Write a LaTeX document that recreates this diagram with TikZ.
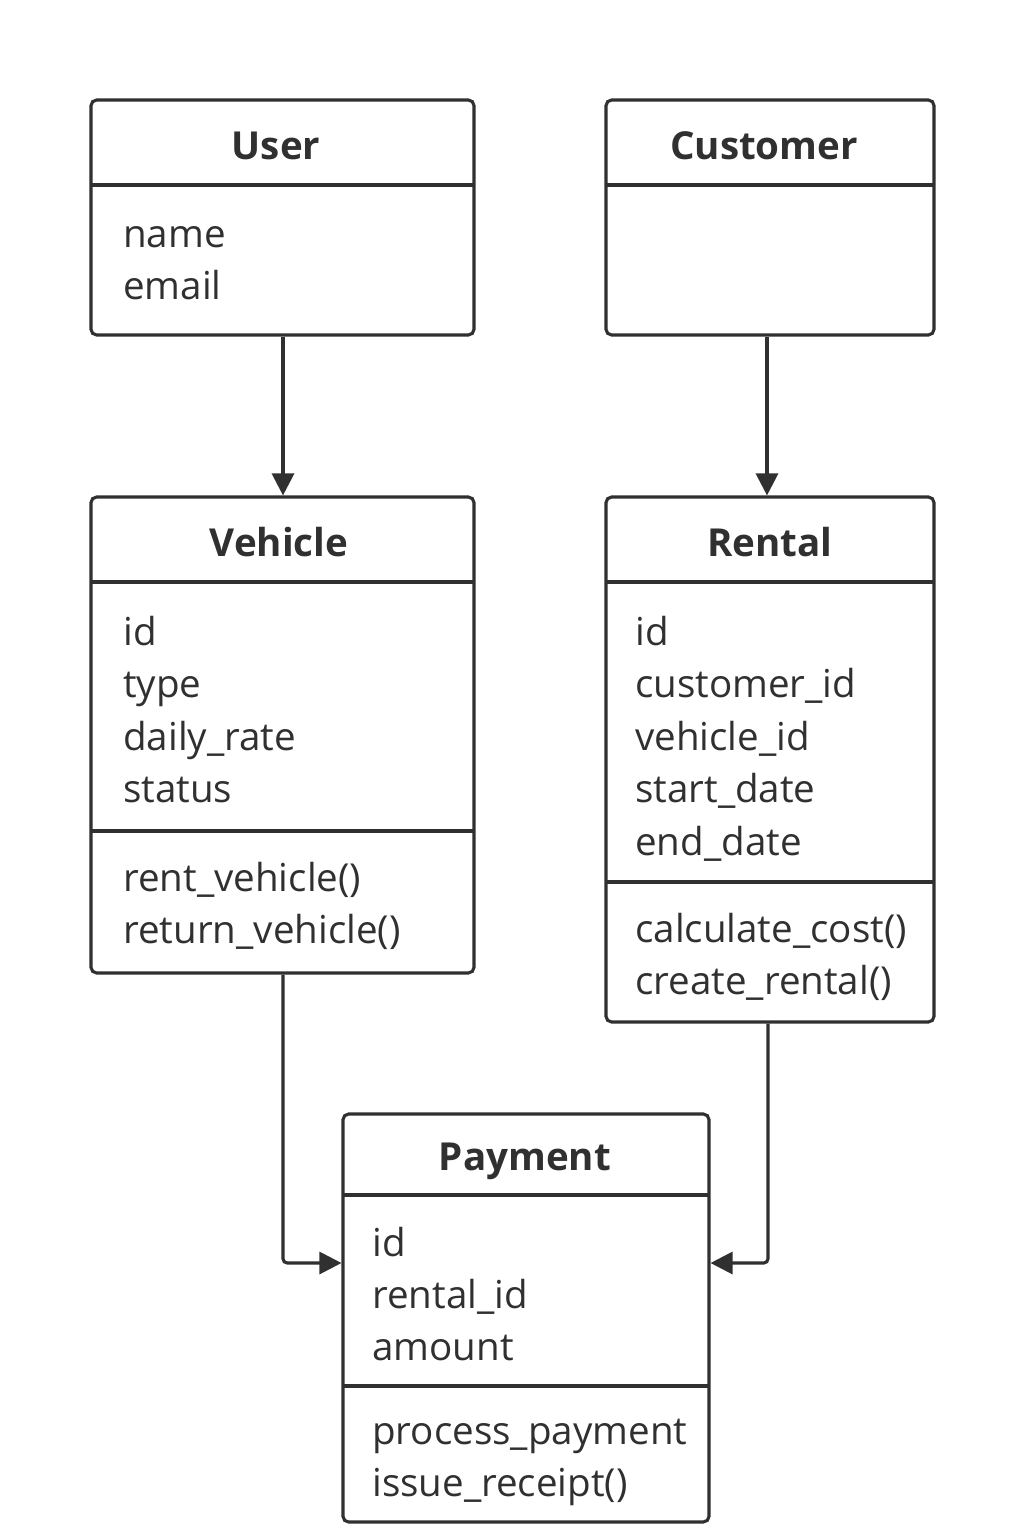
\documentclass[tikz,border=0pt]{standalone}
\usepackage{fontspec}
\setmainfont{Open Sans}
\usetikzlibrary{fit,arrows.meta}
\definecolor{ink}{HTML}{303030}
\tikzset{
  classbox/.style={draw=ink, line width=2.2pt, rounded corners=4pt, inner sep=0pt},
  divider/.style={draw=ink, line width=2.2pt},
  title/.style={anchor=base, text=ink, font=\fontsize{27.4}{33}\selectfont\bfseries, inner sep=0pt},
  attr/.style={anchor=base west, text=ink, font=\fontsize{27.4}{33}\selectfont, inner sep=0pt},
  link/.style={draw=ink, line width=2.2pt, -{Triangle[length=0.55cm,width=0.55cm]}},
}
\begin{document}
\begin{tikzpicture}[x=0.025cm, y=-0.025cm]
\useasboundingbox (0,0) rectangle (1024,1536);
% class boxes
\node[classbox, fit={(91,100) (474,335)}] (user) {};
\node[classbox, fit={(606,100) (934,335)}] (customer) {};
\node[classbox, fit={(91,497) (474,973)}] (vehicle) {};
\node[classbox, fit={(606,497) (934,1022)}] (rental) {};
\node[classbox, fit={(343,1114) (709,1522)}] (payment) {};
% compartments
\draw[divider] (91,185) -- (474,185);
\draw[divider] (606,185) -- (934,185);
\draw[divider] (91,582) -- (474,582);
\draw[divider] (91,831) -- (474,831);
\draw[divider] (606,582) -- (934,582);
\draw[divider] (606,882) -- (934,882);
\draw[divider] (343,1195) -- (709,1195);
\draw[divider] (343,1386) -- (709,1386);
% titles
\node[title] (user-t) at (276,160) {User};
\node[title] (customer-t) at (764,160) {Customer};
\node[title] (vehicle-t) at (279,556) {Vehicle};
\node[title] (rental-t) at (770,556) {Rental};
\node[title] (payment-t) at (525,1170) {Payment};
% User
\node[attr] (user-a1) at (123,248) {name};
\node[attr] (user-a2) at (123,300) {email};
% Vehicle
\node[attr] (vehicle-a1) at (123,645) {id};
\node[attr] (vehicle-a2) at (123,697) {type};
\node[attr] (vehicle-a3) at (123,750) {daily\_rate};
\node[attr] (vehicle-a4) at (123,802) {status};
\node[attr] (vehicle-m1) at (123,891) {rent\_vehicle()};
\node[attr] (vehicle-m2) at (123,943) {return\_vehicle()};
% Rental
\node[attr] (rental-a1) at (635,645) {id};
\node[attr] (rental-a2) at (635,697) {customer\_id};
\node[attr] (rental-a3) at (635,750) {vehicle\_id};
\node[attr] (rental-a4) at (635,802) {start\_date};
\node[attr] (rental-a5) at (635,855) {end\_date};
\node[attr] (rental-m1) at (635,942) {calculate\_cost()};
\node[attr] (rental-m2) at (635,994) {create\_rental()};
% Payment
\node[attr] (payment-a1) at (372,1256) {id};
\node[attr] (payment-a2) at (372,1308) {rental\_id};
\node[attr] (payment-a3) at (372,1360) {amount};
\node[attr] (payment-m1) at (372,1444) {process\_payment};
\node[attr] (payment-m2) at (372,1496) {issue\_receipt()};
% connectors
\coordinate (payin) at (0,1263);
\draw[link] (user.south -| 283,0) -- (vehicle.north -| 283,0);
\draw[link] (customer.south -| 767,0) -- (rental.north -| 767,0);
\draw[link, rounded corners=3pt] (vehicle.south -| 283,0) |- (payment.west |- payin);
\draw[link, rounded corners=3pt] (rental.south -| 768,0) |- (payment.east |- payin);
\end{tikzpicture}
\end{document}
